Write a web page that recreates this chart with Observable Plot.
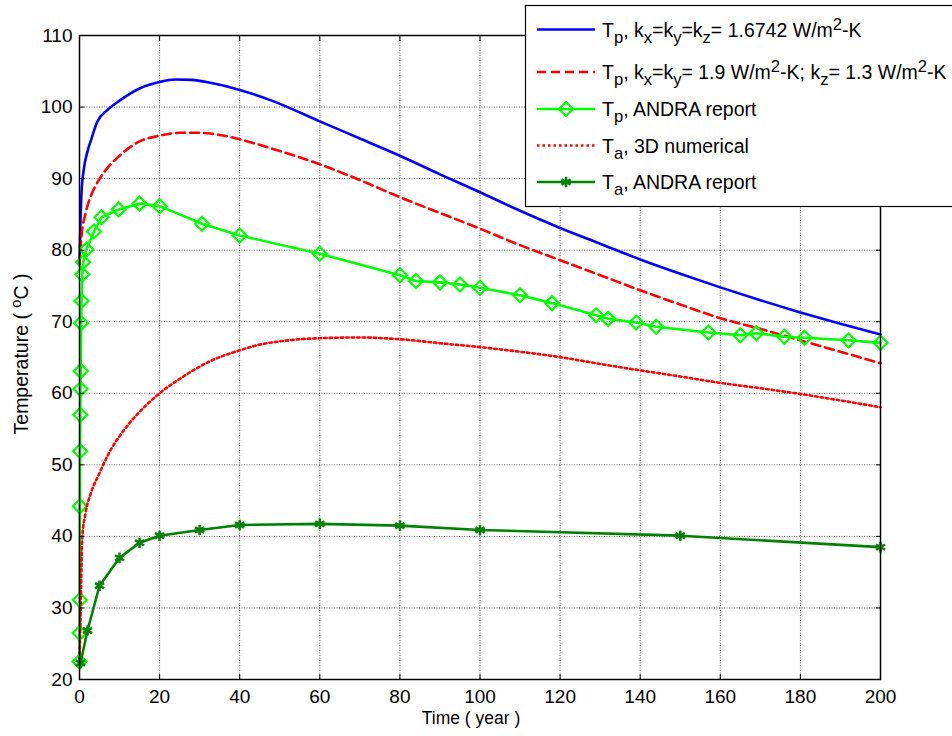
<!DOCTYPE html>
<html><head><meta charset="utf-8">
<script src="https://cdn.jsdelivr.net/npm/d3@7"></script>
<script src="https://cdn.jsdelivr.net/npm/@observablehq/plot@0.6"></script>
<style>
html,body{margin:0;padding:0;background:#fff;overflow:hidden;}
#wrap{position:relative;width:952px;height:736px;}
#legend{position:absolute;left:525px;top:5px;}
</style></head>
<body><div id="wrap"></div>
<script>
// ---- data ----
const xTicks = [0, 20, 40, 60, 80, 100, 120, 140, 160, 180, 200];
const yTicks = [20, 30, 40, 50, 60, 70, 80, 90, 100, 110];

const tpIsoX = [0, 0.2, 0.5, 1, 2, 3, 4.4, 7, 10, 15, 20, 24, 28, 33, 40, 48, 60, 70, 80, 90, 100, 110, 120, 130, 140, 150, 160, 170, 180, 190, 200];
const tpIsoY = [78, 83, 88, 91, 93.8, 95.6, 97.9, 99.6, 100.9, 102.6, 103.5, 103.85, 103.8, 103.35, 102.4, 100.9, 98.0, 95.6, 93.2, 90.6, 88.1, 85.5, 83.1, 80.9, 78.7, 76.7, 74.8, 73.0, 71.3, 69.7, 68.2];

const tpAniX = [0, 0.5, 1.5, 3, 4.4, 7, 9.4, 15, 20, 25, 30, 35, 40, 48, 60, 70, 80, 90, 100, 110, 120, 130, 140, 150, 160, 170, 180, 190, 200];
const tpAniY = [78, 82, 85.1, 87.8, 89.4, 91.5, 92.9, 95.2, 96.0, 96.4, 96.4, 96.1, 95.5, 94.2, 92.0, 89.8, 87.4, 85.2, 83.0, 80.7, 78.6, 76.5, 74.4, 72.4, 70.5, 69.0, 67.4, 65.8, 64.2];

const tpAndraX = [0, 0.02, 0.05, 0.1, 0.15, 0.2, 0.25, 0.3, 0.4, 0.5, 0.7, 0.9, 1.75, 3.6, 5.5, 9.8, 15, 20, 30.6, 40, 60, 80, 84, 90, 95, 100, 110, 118, 129, 132, 139, 144, 157, 165, 169, 176, 181, 192, 200];
const tpAndraY = [22.5, 26.5, 31.1, 44.2, 51.9, 57.0, 60.6, 63.1, 69.8, 72.9, 76.6, 78.3, 80.1, 82.6, 84.6, 85.7, 86.5, 86.15, 83.7, 82.05, 79.5, 76.5, 75.7, 75.5, 75.2, 74.75, 73.7, 72.6, 70.9, 70.4, 69.9, 69.3, 68.5, 68.1, 68.4, 67.9, 67.75, 67.4, 67.05];

const taNumX = [0, 0.3, 0.7, 1.5, 3, 4.8, 6, 8, 10, 12, 15, 20, 25, 32.7, 40, 45, 50, 55, 60, 70, 80, 90, 100, 110, 120, 130, 140, 150, 160, 170, 180, 190, 200];
const taNumY = [22, 30, 39.9, 43.2, 46.3, 48.6, 50.1, 52.3, 54.0, 55.5, 57.4, 60.0, 62.0, 64.5, 66.0, 66.8, 67.25, 67.55, 67.7, 67.8, 67.55, 67.0, 66.45, 65.8, 65.05, 64.1, 63.2, 62.35, 61.45, 60.7, 59.9, 59.0, 58.05];

const taAndraX = [0.25, 2, 5, 10, 15, 20, 30, 40, 60, 80, 100, 150, 200];
const taAndraY = [22.3, 26.85, 33.1, 37.0, 39.1, 40.1, 40.9, 41.6, 41.75, 41.5, 40.9, 40.1, 38.5];

const legendLabels = [
  [["T",0],["p",1],[", k",0],["x",1],["=k",0],["y",1],["=k",0],["z",1],["= 1.6742 W/m",0],["2",2],["-K",0]],
  [["T",0],["p",1],[", k",0],["x",1],["=k",0],["y",1],["= 1.9 W/m",0],["2",2],["-K; k",0],["z",1],["= 1.3 W/m",0],["2",2],["-K",0]],
  [["T",0],["p",1],[", ANDRA report",0]],
  [["T",0],["a",1],[", 3D numerical",0]],
  [["T",0],["a",1],[", ANDRA report",0]]
];
const xLabel = "Time ( year )";
const yLabelParts = [["Temperature ( ",0],["o",2],["C )",0]];

// ---- styles ----
const BLUE = "#0000ff", RED = "#ff0000", GREEN = "#00ff00", DKGREEN = "#008000";
const FONT = "'Liberation Sans', Arial, sans-serif";
const zip = (xs, ys) => xs.map((x, i) => ({x, y: ys[i]}));
const tpIso = zip(tpIsoX, tpIsoY);
const tpAni = zip(tpAniX, tpAniY);
const tpAndra = zip(tpAndraX, tpAndraY);
const taNum = zip(taNumX, taNumY);
const taAndra = zip(taAndraX, taAndraY);

const gridStyle = {stroke: "#333", strokeOpacity: 0.75, strokeDasharray: "1,1.5", strokeWidth: 1};
const blank = () => "";

const plot = Plot.plot({
  width: 952, height: 736,
  marginLeft: 79, marginRight: 72, marginTop: 35, marginBottom: 57,
  style: {fontFamily: FONT, fontSize: "19px", background: "#fff", color: "#000", overflow: "visible"},
  x: {domain: [0, 200]},
  y: {domain: [20, 110]},
  marks: [
    Plot.gridX(xTicks, gridStyle),
    Plot.gridY(yTicks, gridStyle),
    Plot.line(tpIso, {x: "x", y: "y", stroke: BLUE, strokeWidth: 2.6, curve: "monotone-x"}),
    Plot.line(tpAni, {x: "x", y: "y", stroke: RED, strokeWidth: 2.6, strokeDasharray: "9,5", curve: "monotone-x"}),
    Plot.line(tpAndra, {x: "x", y: "y", stroke: GREEN, strokeWidth: 2.6}),
    Plot.dot(tpAndra, {x: "x", y: "y", symbol: "diamond2", r: 6.3, stroke: GREEN, strokeWidth: 2.2, fill: "none"}),
    Plot.line(taNum, {x: "x", y: "y", stroke: RED, strokeWidth: 2.6, strokeDasharray: "2.5,3", curve: "monotone-x"}),
    Plot.line(taAndra, {x: "x", y: "y", stroke: DKGREEN, strokeWidth: 2.6}),
    Plot.dot(taAndra, {x: "x", y: "y", symbol: "asterisk", r: 5, stroke: DKGREEN, strokeWidth: 2.5}),
    Plot.frame({stroke: "#000", strokeWidth: 1.5}),
    Plot.axisX(xTicks, {anchor: "bottom", tickSize: -5, tickPadding: 15, label: null, fontSize: 19}),
    Plot.axisX(xTicks, {anchor: "top", tickSize: -5, tickFormat: blank, label: null}),
    Plot.axisY(yTicks, {anchor: "left", tickSize: -5, tickPadding: 12, label: null, fontSize: 19}),
    Plot.axisY(yTicks, {anchor: "right", tickSize: -5, tickFormat: blank, label: null}),
    Plot.text([xLabel], {frameAnchor: "bottom", dx: -9, dy: 44, fontSize: 17.5, fill: "#000"})
  ]
});

const wrap = document.getElementById("wrap");
wrap.appendChild(plot);

function addParts(textSel, parts, size, subScale) {
  let cur = 0;
  for (const [s, k] of parts) {
    const target = k === 1 ? 6 : k === 2 ? -7 : 0;
    textSel.append("tspan")
      .attr("dy", target - cur)
      .attr("font-size", k ? size * subScale : size)
      .text(s);
    cur = target;
  }
}

// y-axis label with superscript
const svg = d3.select(plot);
const yl = svg.append("text")
  .attr("transform", "translate(28,354) rotate(-90)")
  .attr("text-anchor", "middle")
  .attr("font-family", FONT)
  .attr("fill", "#000");
addParts(yl, yLabelParts, 19.5, 0.75);

// legend
const LW = 440, LH = 202;
const leg = d3.select(wrap).append("svg")
  .attr("id", "legend").attr("width", LW).attr("height", LH)
  .style("overflow", "visible");
leg.append("rect").attr("x", 0.5).attr("y", 0.5).attr("width", LW - 1).attr("height", LH - 1)
  .attr("fill", "#fff").attr("stroke", "#000").attr("stroke-width", 1.2);
const rowY = [24.5, 67, 104, 140.5, 177];
const styles = [
  {stroke: BLUE}, {stroke: RED, dash: "9,5"}, {stroke: GREEN, marker: "diamond"},
  {stroke: RED, dash: "2.5,3"}, {stroke: DKGREEN, marker: "asterisk"}
];
rowY.forEach((y, i) => {
  const st = styles[i];
  leg.append("line").attr("x1", 12).attr("x2", 70).attr("y1", y).attr("y2", y)
    .attr("stroke", st.stroke).attr("stroke-width", 2.6)
    .attr("stroke-dasharray", st.dash || null);
  if (st.marker === "diamond") {
    leg.append("path").attr("d", d3.symbol(d3.symbolDiamond2, Math.PI * 6.3 * 6.3)())
      .attr("transform", `translate(41,${y})`).attr("fill", "none")
      .attr("stroke", st.stroke).attr("stroke-width", 2.2);
  } else if (st.marker === "asterisk") {
    leg.append("path").attr("d", d3.symbol(d3.symbolAsterisk, Math.PI * 25)())
      .attr("transform", `translate(41,${y})`).attr("fill", "none")
      .attr("stroke", st.stroke).attr("stroke-width", 2.5);
  }
  const t = leg.append("text").attr("x", 77).attr("y", y + 7)
    .attr("font-family", FONT).attr("fill", "#000");
  addParts(t, legendLabels[i], 19.5, 0.85);
});
</script>
</body></html>
